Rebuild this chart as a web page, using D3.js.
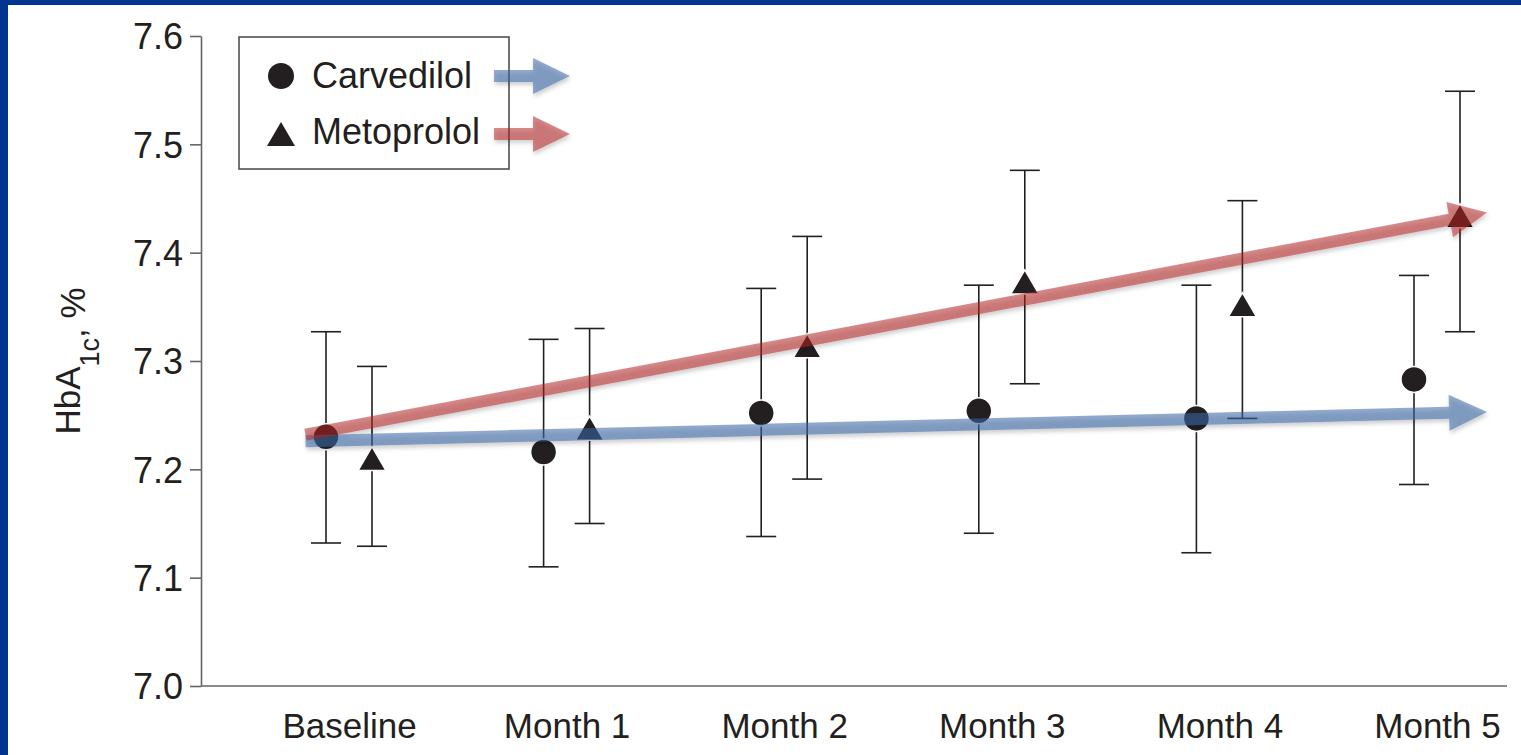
<!DOCTYPE html>
<html>
<head>
<meta charset="utf-8">
<script src="https://cdn.jsdelivr.net/npm/d3@7"></script>
<style>
  html, body { margin: 0; padding: 0; background: #fff; }
  svg { display: block; }
  text { font-family: "Liberation Sans", Arial, Helvetica, sans-serif; fill: #231f20; }
</style>
</head>
<body>
<svg id="chart" width="1521" height="755"></svg>
<script>
// HbA1c over time, carvedilol vs metoprolol (mean with error bars)
const categories = ["Baseline", "Month 1", "Month 2", "Month 3", "Month 4", "Month 5"];
const carvedilolMean = [7.230, 7.216, 7.252, 7.254, 7.247, 7.283];
const carvedilolLow  = [7.132, 7.110, 7.138, 7.141, 7.123, 7.186];
const carvedilolHigh = [7.327, 7.320, 7.367, 7.370, 7.370, 7.379];
const metoprololMean = [7.210, 7.238, 7.314, 7.373, 7.352, 7.434];
const metoprololLow  = [7.129, 7.150, 7.191, 7.279, 7.247, 7.327];
const metoprololHigh = [7.295, 7.330, 7.415, 7.476, 7.448, 7.549];
// trend arrows: start/end position (in category index units) and value
const trendIndex = [-0.2, 5.23];
const carvedilolTrend = [7.226, 7.253];
const metoprololTrend = [7.232, 7.437];
const yTicks = [7.0, 7.1, 7.2, 7.3, 7.4, 7.5, 7.6];
const seriesNames = ["Carvedilol", "Metoprolol"];

const svg = d3.select("#chart");
const W = 1521, H = 755;

// frame
svg.append("rect").attr("x", 0).attr("y", 0).attr("width", W).attr("height", H).attr("fill", "#fff");
svg.append("rect").attr("x", 0).attr("y", 0).attr("width", W).attr("height", 5).attr("fill", "#00358f");
svg.append("rect").attr("x", 0).attr("y", 0).attr("width", 8).attr("height", H).attr("fill", "#00358f");

const plot = { left: 201, right: 1507, top: 36, bottom: 686 };
const y = d3.scaleLinear().domain([7.0, 7.6]).range([plot.bottom, plot.top]);
const x = d3.scalePoint().domain(categories).range([349, 1437]);
const xi = d3.scaleLinear().domain([0, categories.length - 1]).range([349, 1437]);
const offset = 23;

// shadow filter for arrows
const defs = svg.append("defs");
const f = defs.append("filter").attr("id", "shadow").attr("x", "-10%").attr("y", "-50%").attr("width", "120%").attr("height", "200%");
f.append("feDropShadow").attr("dx", 1).attr("dy", 3).attr("stdDeviation", 2.2)
  .attr("flood-color", "#000").attr("flood-opacity", 0.35);

// y axis
const yAxis = d3.axisLeft(y).tickValues(yTicks).tickFormat(d3.format(".1f"))
  .tickSize(11).tickSizeOuter(0).tickPadding(7);
const gy = svg.append("g").attr("transform", `translate(${plot.left},0)`).call(yAxis);
gy.select(".domain").attr("stroke", "#666").attr("stroke-width", 1.6);
gy.selectAll(".tick line").attr("stroke", "#666").attr("stroke-width", 1.6);
gy.selectAll(".tick text").attr("font-size", 36).attr("fill", "#231f20")
  .attr("font-family", "Liberation Sans, Arial, sans-serif").attr("dy", "0.36em");

// x axis
svg.append("line").attr("x1", plot.left).attr("x2", plot.right)
  .attr("y1", plot.bottom).attr("y2", plot.bottom)
  .attr("stroke", "#666").attr("stroke-width", 1.6);
const xAxis = d3.axisBottom(x).tickSize(0).tickPadding(0);
const gx = svg.append("g").attr("transform", `translate(0,${plot.bottom})`).call(xAxis);
gx.select(".domain").remove();
gx.selectAll(".tick text").attr("font-size", 35).attr("fill", "#231f20")
  .attr("font-family", "Liberation Sans, Arial, sans-serif")
  .attr("y", 52).attr("dy", 0);

// y axis title: HbA1c, %
const yt = svg.append("text").attr("transform", "translate(80,361) rotate(-90)")
  .attr("text-anchor", "middle").attr("font-size", 35);
yt.append("tspan").text("HbA");
yt.append("tspan").attr("font-size", 27).attr("dy", 19).text("1c");
yt.append("tspan").attr("dy", -14).text(", %");

// error bars
const cap = 15;
function errorBars(lo, hi, dx) {
  const g = svg.append("g").attr("stroke", "#231f20").attr("stroke-width", 1.6);
  categories.forEach((c, i) => {
    const cx = x(c) + dx;
    g.append("line").attr("x1", cx).attr("x2", cx).attr("y1", y(lo[i])).attr("y2", y(hi[i]));
    g.append("line").attr("x1", cx - cap).attr("x2", cx + cap).attr("y1", y(lo[i])).attr("y2", y(lo[i]));
    g.append("line").attr("x1", cx - cap).attr("x2", cx + cap).attr("y1", y(hi[i])).attr("y2", y(hi[i]));
  });
}
errorBars(carvedilolLow, carvedilolHigh, -offset);
errorBars(metoprololLow, metoprololHigh, offset);

// markers
const triPath = "M0,-12L14,12L-14,12Z";
svg.append("g").selectAll("circle").data(carvedilolMean).join("circle")
  .attr("cx", (d, i) => x(categories[i]) - offset).attr("cy", d => y(d)).attr("r", 13)
  .attr("fill", "#231f20").attr("stroke", "#fff").attr("stroke-width", 1.5);
svg.append("g").selectAll("path").data(metoprololMean).join("path")
  .attr("transform", (d, i) => `translate(${x(categories[i]) + offset},${y(d)})`)
  .attr("d", triPath)
  .attr("fill", "#231f20").attr("stroke", "#fff").attr("stroke-width", 1.5);

// arrow polygon from start point to tip
function arrowPath(x0, y0, x1, y1, w, hl, hw) {
  const dx = x1 - x0, dy = y1 - y0, L = Math.hypot(dx, dy);
  const ux = dx / L, uy = dy / L, nx = -uy, ny = ux;
  const bx = x1 - ux * hl, by = y1 - uy * hl;
  const p = [
    [x0 + nx * w / 2, y0 + ny * w / 2],
    [bx + nx * w / 2, by + ny * w / 2],
    [bx + nx * hw / 2, by + ny * hw / 2],
    [x1, y1],
    [bx - nx * hw / 2, by - ny * hw / 2],
    [bx - nx * w / 2, by - ny * w / 2],
    [x0 - nx * w / 2, y0 - ny * w / 2]
  ];
  return "M" + p.map(q => q.join(",")).join("L") + "Z";
}
const blue = "#3a66a6", red = "#b32323";
const arrows = svg.append("g").attr("filter", "url(#shadow)");
arrows.append("path")
  .attr("d", arrowPath(xi(trendIndex[0]), y(carvedilolTrend[0]), xi(trendIndex[1]), y(carvedilolTrend[1]), 12, 38, 36))
  .attr("fill", blue).attr("fill-opacity", 0.55);
arrows.append("path")
  .attr("d", arrowPath(xi(trendIndex[0]), y(metoprololTrend[0]), xi(trendIndex[1]), y(metoprololTrend[1]), 12, 38, 36))
  .attr("fill", red).attr("fill-opacity", 0.52);

// legend
const lg = svg.append("g");
lg.append("rect").attr("x", 239).attr("y", 37).attr("width", 270).attr("height", 132)
  .attr("fill", "#fff").attr("stroke", "#444").attr("stroke-width", 1.5);
lg.append("circle").attr("cx", 281).attr("cy", 76).attr("r", 13).attr("fill", "#231f20");
lg.append("path").attr("transform", "translate(281,134)").attr("d", triPath).attr("fill", "#231f20");
lg.selectAll("text.lbl").data(seriesNames).join("text").attr("class", "lbl")
  .attr("x", 312).attr("y", (d, i) => 88 + i * 56).attr("font-size", 36).text(d => d);
const lgArrows = svg.append("g").attr("filter", "url(#shadow)");
lgArrows.append("path").attr("d", arrowPath(494, 76, 570, 76, 12, 37, 36))
  .attr("fill", blue).attr("fill-opacity", 0.55);
lgArrows.append("path").attr("d", arrowPath(494, 134, 570, 134, 12, 37, 36))
  .attr("fill", red).attr("fill-opacity", 0.52);
</script>
</body>
</html>
